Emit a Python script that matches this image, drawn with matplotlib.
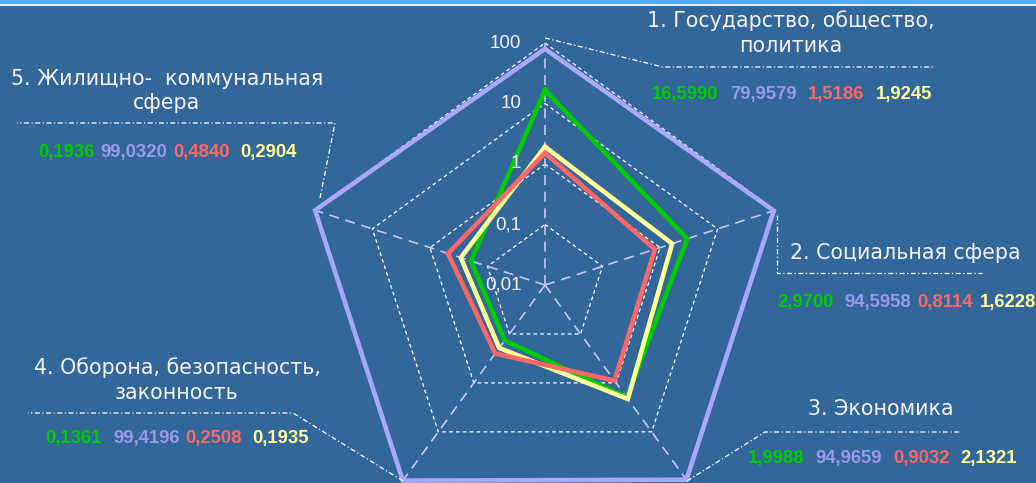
import numpy as np
import matplotlib
matplotlib.use("Agg")
import matplotlib.pyplot as plt
from matplotlib.lines import Line2D
from matplotlib.patches import Rectangle

# ---------------- data ----------------
categories = ["1. Государство, общество,\nполитика",
              "2. Социальная сфера",
              "3. Экономика",
              "4. Оборона, безопасность,\nзаконность",
              "5. Жилищно-  коммунальная\nсфера"]
green_vals = [16.5990, 2.9700, 1.9988, 0.1361, 0.1936]
purple_vals = [79.9579, 94.5958, 94.9659, 99.4196, 99.0320]
red_vals = [1.5186, 0.8114, 0.9032, 0.2508, 0.4840]
yellow_vals = [1.9245, 1.6228, 2.1321, 0.1935, 0.2904]
green_lbl = ["16,5990", "2,9700", "1,9988", "0,1361", "0,1936"]
purple_lbl = ["79,9579", "94,5958", "94,9659", "99,4196", "99,0320"]
red_lbl = ["1,5186", "0,8114", "0,9032", "0,2508", "0,4840"]
yellow_lbl = ["1,9245", "1,6228", "2,1321", "0,1935", "0,2904"]
ring_levels = [0.1, 1, 10, 100]
tick_levels = [100, 10, 1, 0.1, 0.01]
tick_labels = ["100", "10", "1", "0,1", "0,01"]

# ---------------- style ----------------
BG = "#336699"
C_GREEN = "#00CC00"
C_PURPLE = "#A8A8F8"
C_RED = "#FF6666"
C_YELLOW = "#FFFF99"
C_PURPLE_TXT = "#9999EE"

W, H = 1036, 483
fig = plt.figure(figsize=(W / 100, H / 100), dpi=100, facecolor=BG)

def fx(x):
    return x / W

def fy(y):
    return 1 - y / H

# top decoration strip
fig.add_artist(Rectangle((0, fy(4)), 1, 4 / H, transform=fig.transFigure,
                         facecolor="#55AAFF", edgecolor="none"))
fig.add_artist(Rectangle((0, fy(6)), 1, 2 / H, transform=fig.transFigure,
                         facecolor="#E8F0FF", edgecolor="none"))

# polar axes positioned so that center is at (545,285) px and r(100)=242 px
cx, cy, R = 545, 285, 242
ax = fig.add_axes([fx(cx - R), fy(cy + R), 2 * R / W, 2 * R / H], projection="polar")
ax.set_facecolor("none")
ax.set_theta_zero_location("N")
ax.set_theta_direction(-1)
ax.set_rscale("log")
ax.set_rlim(0.01, 100)
ax.grid(False)
ax.spines["polar"].set_visible(False)
ax.set_xticks([])
ax.set_yticks([])
ax.set_yticklabels([])

n = len(categories)
ang = np.linspace(0, 2 * np.pi, n, endpoint=False)
ang_c = np.concatenate([ang, ang[:1]])

# ring grid (pentagons)
for lv in ring_levels:
    ax.plot(ang_c, [lv] * (n + 1), color="white", lw=0.9,
            linestyle=(0, (3, 2.5)), clip_on=False, zorder=1)
# spokes
for a in ang:
    ax.plot([a, a], [0.01, 100], color="#C8C8F0", lw=1.2,
            linestyle=(0, (6, 4)), clip_on=False, zorder=1)

def closed(v):
    return list(v) + [v[0]]

LW = 3.3
ax.plot(ang_c, closed(purple_vals), color=C_PURPLE, lw=LW, clip_on=False, zorder=3,
        solid_joinstyle="miter")
ax.plot(ang_c, closed(green_vals), color=C_GREEN, lw=LW, clip_on=False, zorder=4,
        solid_joinstyle="miter")
ax.plot(ang_c, closed(yellow_vals), color=C_YELLOW, lw=LW, clip_on=False, zorder=5,
        solid_joinstyle="miter")
ax.plot(ang_c, closed(red_vals), color=C_RED, lw=LW, clip_on=False, zorder=6,
        solid_joinstyle="miter")

# radial tick labels
for lv, lb in zip(tick_levels, tick_labels):
    ax.annotate(lb, xy=(0, lv), xytext=(-17, 0), textcoords="offset points",
                ha="right", va="center", color="#F0F0FF", fontsize=13.5,
                family="Liberation Sans", annotation_clip=False, zorder=7)

# ---------------- labels ----------------
TXT = "#F2F2F2"
label_pos = [(791, 33), (905, 253), (881, 409), (177, 380), (167, 91)]
for (x, y), c in zip(label_pos, categories):
    fig.text(fx(x), fy(y), c, ha="center", va="center", color=TXT,
             fontsize=14.8, family="DejaVu Sans", linespacing=1.3)

# value rows: left positions of each number, center y
num_rows = [
    (95, [652, 730, 808, 876]),
    (302, [777, 844, 917, 980]),
    (458, [748, 815, 893, 960]),
    (439, [45, 113, 185, 252]),
    (153, [38, 100, 173, 240]),
]
for i, (y, xs) in enumerate(num_rows):
    for x, txt, col in zip(xs, [green_lbl[i], purple_lbl[i], red_lbl[i], yellow_lbl[i]],
                           [C_GREEN, C_PURPLE_TXT, C_RED, C_YELLOW]):
        fig.text(fx(x), fy(y), txt, ha="left", va="center", color=col,
                 fontsize=13.3, fontweight="bold", family="Liberation Sans")

# leader lines (dash-dot)
leaders = [
    [(545, 38), (663, 67), (935, 67)],
    [(777, 215), (777, 273), (982, 273)],
    [(687, 481), (765, 432), (960, 432)],
    [(403, 481), (293, 413), (28, 413)],
    [(320, 198), (335, 123), (17, 123)],
]
for pts in leaders:
    xs = [fx(p[0]) for p in pts]
    ys = [fy(p[1]) for p in pts]
    fig.add_artist(Line2D(xs, ys, transform=fig.transFigure, color="white",
                          lw=0.9, linestyle=(0, (4, 2, 1, 2))))

fig.savefig("out.png", dpi=100, facecolor=BG)
